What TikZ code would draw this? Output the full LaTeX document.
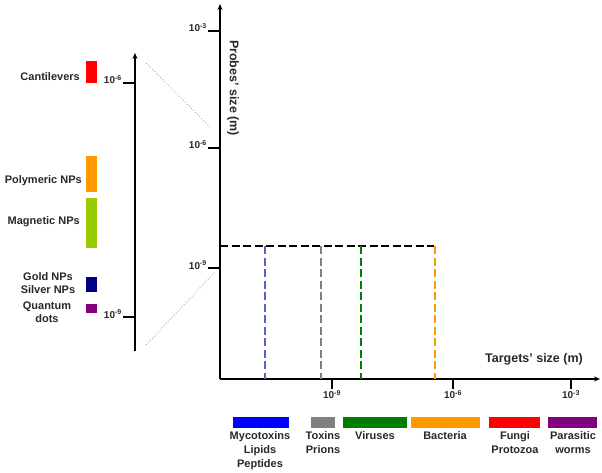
\documentclass[tikz,border=0pt]{standalone}
\usepackage{fontspec}
\setmainfont{Liberation Sans}
\usetikzlibrary{arrows.meta}
\definecolor{cOrange}{RGB}{255,153,0}
\definecolor{cLime}{RGB}{153,204,0}
\definecolor{cNavy}{RGB}{0,0,128}
\definecolor{cPurple}{RGB}{128,0,128}
\definecolor{cGreen}{RGB}{0,128,0}
\definecolor{cBlue}{RGB}{0,0,255}
\definecolor{cGray}{RGB}{128,128,128}
\definecolor{cDBlue}{RGB}{90,100,200}
\definecolor{txt}{RGB}{40,40,40}
\begin{document}
\begin{tikzpicture}[x=1pt,y=-1pt,
  axis/.style={line width=1.4pt,-{Stealth[length=6pt,width=5pt]}},
  tick/.style={line width=1.4pt},
  ticklab/.style={font=\bfseries\fontsize{10}{11}\selectfont,text=txt,inner sep=1pt},
  lab/.style={font=\bfseries\fontsize{11}{13}\selectfont,text=txt,align=center,inner sep=0pt},
  axlab/.style={font=\bfseries\fontsize{12.5}{14}\selectfont,text=txt,inner sep=0pt},
  leg/.style={font=\bfseries\fontsize{11}{14}\selectfont,text=txt,align=center,inner sep=0pt,anchor=north},
  guide/.style={dash pattern=on 8pt off 3.5pt,line width=1.3pt},
  zoomline/.style={gray!70,dotted,line width=0.9pt}]
\useasboundingbox (0,0) rectangle (602,473);
% main axes
\coordinate (O) at (220,379);
\coordinate (Ytop) at (220,4);
\coordinate (Xend) at (600,379);
\draw[axis] (O) -- (Ytop);
\draw[axis] (O) -- (Xend);
% y ticks
\foreach \y/\e/\n in {31/-3/ya,148/-6/yb,268/-9/yc}{
  \coordinate (\n) at (220,\y);
  \coordinate (\n l) at (208,\y);
  \draw[tick] (\n) -- (\n l);
  \node[ticklab,anchor=base east] at ([yshift=-1pt]\n l) {10\textsuperscript{\e}};
}
% x ticks
\foreach \x/\e/\n in {332/-9/xa,453/-6/xb,571/-3/xc}{
  \coordinate (\n) at (\x,379);
  \coordinate (\n d) at (\x,389);
  \draw[tick] (\n) -- (\n d);
  \node[ticklab,anchor=north] at (\n d) {10\textsuperscript{\e}};
}
\node[axlab,rotate=-90] (ylab) at (233,88) {Probes' size (m)};
\node[axlab] (xlab) at (534,359) {Targets' size (m)};
% dashed guides
\coordinate (hd0) at (220,246);
\coordinate (hd1) at (434,246);
\draw[guide] (hd0) -- (hd1);
\foreach \x/\c/\n in {265/cDBlue/va,321/cGray/vb,361/cGreen/vc,435/cOrange/vd}{
  \coordinate (\n t) at (\x,246);
  \coordinate (\n b) at (\x,379);
  \draw[guide,\c] (\n t) -- (\n b);
}
% left axis
\coordinate (Lb) at (135,351);
\coordinate (Lt) at (135,53);
\draw[axis] (Lb) -- (Lt);
\foreach \y/\e/\n in {83/-6/la,317/-9/lb}{
  \coordinate (\n) at (135,\y);
  \coordinate (\n l) at (123,\y);
  \draw[tick] (\n) -- (\n l);
  \node[ticklab,anchor=base east] at ([yshift=-1pt]\n l) {10\textsuperscript{\e}};
}
% zoom lines
\coordinate (z1a) at (146,63);
\coordinate (z1b) at (210,127);
\coordinate (z2a) at (146,345);
\coordinate (z2b) at (215,272);
\draw[zoomline] (z1a) -- (z1b);
\draw[zoomline] (z2a) -- (z2b);
% left bars
\fill[red] (86,61) rectangle (97,83);
\fill[cOrange] (86,156) rectangle (97,192);
\fill[cLime] (86,198) rectangle (97,248);
\fill[cNavy] (86,277) rectangle (97,292);
\fill[cPurple] (86,304) rectangle (97,313);
\node[lab,anchor=east] (cant) at (80,77) {Cantilevers};
\node[lab,anchor=east] (poly) at (82,181) {Polymeric NPs};
\node[lab,anchor=east] (magn) at (80,222) {Magnetic NPs};
\node[lab,anchor=center,font=\bfseries\fontsize{11}{12.5}\selectfont] (gold) at (48,283) {Gold NPs\\Silver NPs};
\node[lab,anchor=center,font=\bfseries\fontsize{11}{12.5}\selectfont] (qd) at (47,312) {Quantum\\dots};
% bottom legend
\foreach \a/\b/\c/\n in {233/289/cBlue/la,311/335/cGray/lb,343/407/cGreen/lc,411/480/cOrange/ld,489/540/red/le,548/597/cPurple/lf}{
  \fill[\c] (\a,417) rectangle (\b,428);
}
\node[leg] (myco) at (260,431) {Mycotoxins\\Lipids\\Peptides};
\node[leg] (tox) at (323,431) {Toxins\\Prions};
\node[leg] (vir) at (375,431) {Viruses};
\node[leg] (bac) at (445,431) {Bacteria};
\node[leg] (fun) at (515,431) {Fungi\\Protozoa};
\node[leg] (par) at (573,431) {Parasitic\\worms};
\end{tikzpicture}
\end{document}
